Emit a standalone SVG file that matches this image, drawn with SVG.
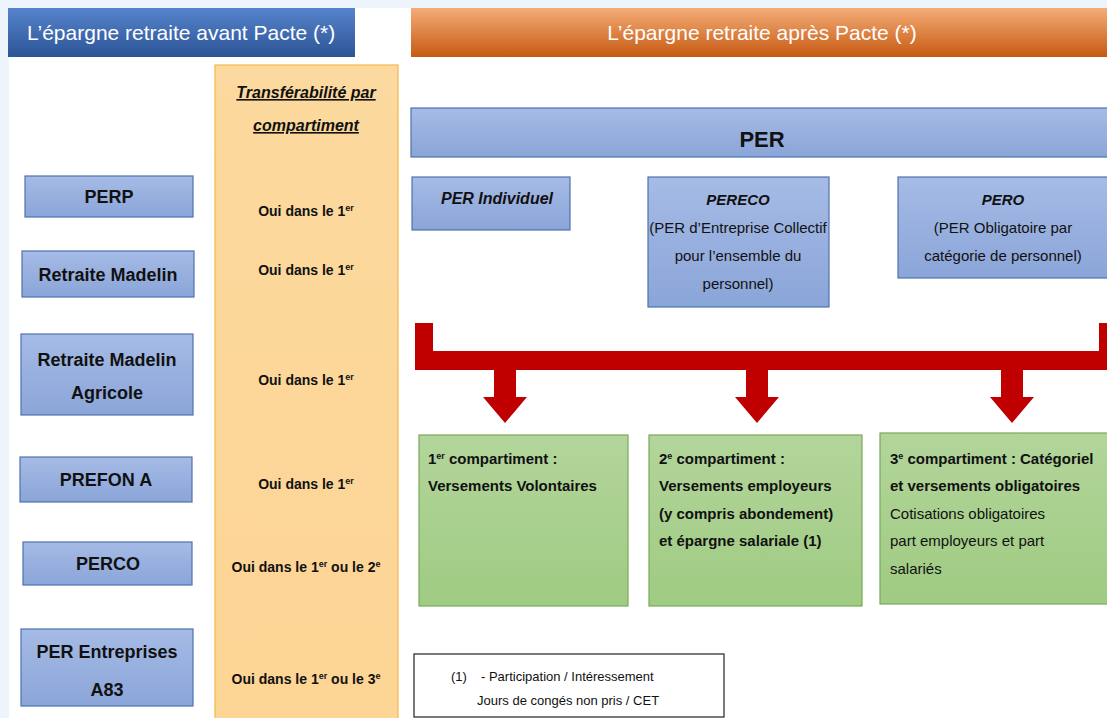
<svg xmlns="http://www.w3.org/2000/svg" width="1107" height="718" viewBox="0 0 1107 718">
<defs>
<linearGradient id="gHdrBlue" x1="0" y1="0" x2="0" y2="1"><stop offset="0" stop-color="#5683cc"/><stop offset="1" stop-color="#2c5596"/></linearGradient>
<linearGradient id="gHdrOrange" x1="0" y1="0" x2="0" y2="1"><stop offset="0" stop-color="#f4ad78"/><stop offset="1" stop-color="#c65911"/></linearGradient>
<linearGradient id="gBlue" x1="0" y1="0" x2="0" y2="1"><stop offset="0" stop-color="#a6bbe6"/><stop offset="1" stop-color="#8aa5d8"/></linearGradient>
<linearGradient id="gGreen" x1="0" y1="0" x2="0" y2="1"><stop offset="0" stop-color="#b3d59b"/><stop offset="1" stop-color="#9fcb82"/></linearGradient>
<linearGradient id="gYellow" x1="0" y1="0" x2="0" y2="1"><stop offset="0" stop-color="#fcd99e"/><stop offset="1" stop-color="#fdd595"/></linearGradient>
</defs>
<style>
text{font-family:"Liberation Sans",Arial,sans-serif;fill:#111;}
.hdr{fill:#fff;font-size:21px;}
.bl{fill:url(#gBlue);stroke:#4e72ad;stroke-width:1.2;}
.gr{fill:url(#gGreen);stroke:#7aa85a;stroke-width:1.2;}
.lbl{font-size:18px;font-weight:bold;text-anchor:middle;}
.oui{font-size:14px;font-weight:bold;text-anchor:middle;}
.sub{font-size:15px;text-anchor:middle;}
.gt{font-size:15px;font-weight:bold;}
.gn{font-size:15px;}
.red{fill:#c00000;}
</style>
<rect x="0" y="0" width="1107" height="718" fill="#eef4fb"/>
<rect x="9" y="8" width="1098" height="710" fill="#ffffff"/>

<g id="hdr-avant">
<rect x="8" y="8" width="347" height="49" fill="url(#gHdrBlue)"/>
<text class="hdr" x="27" y="40">L’épargne retraite avant Pacte (*)</text>
</g>
<g id="hdr-apres">
<rect x="411" y="8" width="696" height="49" fill="url(#gHdrOrange)"/>
<text class="hdr" x="762" y="40" text-anchor="middle">L’épargne retraite après Pacte (*)</text>
</g>

<g id="col-transfer">
<rect x="215" y="65" width="183" height="660" fill="url(#gYellow)" stroke="#f2b84b" stroke-width="1.2"/>
<text x="306" y="98" font-size="16" font-weight="bold" font-style="italic" text-anchor="middle" text-decoration="underline">Transférabilité par</text>
<text x="306" y="131" font-size="16" font-weight="bold" font-style="italic" text-anchor="middle" text-decoration="underline">compartiment</text>
<text class="oui" x="306" y="216">Oui dans le 1<tspan font-size="9" baseline-shift="super">er</tspan></text>
<text class="oui" x="306" y="275">Oui dans le 1<tspan font-size="9" baseline-shift="super">er</tspan></text>
<text class="oui" x="306" y="385">Oui dans le 1<tspan font-size="9" baseline-shift="super">er</tspan></text>
<text class="oui" x="306" y="489">Oui dans le 1<tspan font-size="9" baseline-shift="super">er</tspan></text>
<text class="oui" x="306" y="572">Oui dans le 1<tspan font-size="9" baseline-shift="super">er</tspan> ou le 2<tspan font-size="9" baseline-shift="super">e</tspan></text>
<text class="oui" x="306" y="684">Oui dans le 1<tspan font-size="9" baseline-shift="super">er</tspan> ou le 3<tspan font-size="9" baseline-shift="super">e</tspan></text>
</g>

<g id="perp"><rect class="bl" x="25" y="176" width="168" height="41"/><text class="lbl" x="109" y="203">PERP</text></g>
<g id="madelin"><rect class="bl" x="22" y="251" width="172" height="46"/><text class="lbl" x="108" y="281">Retraite Madelin</text></g>
<g id="madelin-agricole"><rect class="bl" x="21" y="334" width="172" height="81"/><text class="lbl" x="107" y="366">Retraite Madelin</text><text class="lbl" x="107" y="399">Agricole</text></g>
<g id="prefon"><rect class="bl" x="20" y="457" width="172" height="45"/><text class="lbl" x="106" y="486">PREFON A</text></g>
<g id="perco"><rect class="bl" x="23" y="542" width="169" height="43"/><text class="lbl" x="108" y="570">PERCO</text></g>
<g id="per-a83"><rect class="bl" x="21" y="629" width="172" height="77"/><text class="lbl" x="107" y="658">PER Entreprises</text><text class="lbl" x="107" y="696">A83</text></g>

<g id="per"><rect class="bl" x="411" y="108" width="700" height="49"/><text x="762" y="147" font-size="22" font-weight="bold" text-anchor="middle">PER</text></g>
<g id="per-individuel"><rect class="bl" x="412" y="177" width="158" height="53"/><text x="497" y="204" font-size="16" font-weight="bold" font-style="italic" text-anchor="middle">PER Individuel</text></g>
<g id="pereco"><rect class="bl" x="648" y="177" width="181" height="130"/>
<text x="738" y="205" font-size="15" font-weight="bold" font-style="italic" text-anchor="middle">PERECO</text>
<text class="sub" x="738" y="233">(PER d’Entreprise Collectif</text>
<text class="sub" x="738" y="261">pour l’ensemble du</text>
<text class="sub" x="738" y="289">personnel)</text></g>
<g id="pero"><rect class="bl" x="898" y="177" width="213" height="101"/>
<text x="1003" y="205" font-size="15" font-weight="bold" font-style="italic" text-anchor="middle">PERO</text>
<text class="sub" x="1003" y="233">(PER Obligatoire par</text>
<text class="sub" x="1003" y="261">catégorie de personnel)</text></g>

<g id="connectors">
<path class="red" d="M415,323 H433 V351 H1099 V323 H1107 V370 H433 V370 H415 Z"/>
<path class="red" d="M494,370 H516 V397 H527 L505,423 L483,397 H494 Z"/>
<path class="red" d="M746,370 H768 V397 H779 L757,423 L735,397 H746 Z"/>
<path class="red" d="M1001,370 H1023 V397 H1034 L1012,423 L990,397 H1001 Z"/>
</g>

<g id="comp1"><rect class="gr" x="419" y="435" width="209" height="171"/>
<text class="gt" x="428" y="464">1<tspan font-size="9" baseline-shift="super">er</tspan> compartiment :</text>
<text class="gt" x="428" y="491">Versements Volontaires</text></g>
<g id="comp2"><rect class="gr" x="649" y="435" width="213" height="171"/>
<text class="gt" x="659" y="464">2<tspan font-size="9" baseline-shift="super">e</tspan> compartiment :</text>
<text class="gt" x="659" y="491">Versements employeurs</text>
<text class="gt" x="659" y="519">(y compris abondement)</text>
<text class="gt" x="659" y="546">et épargne salariale (1)</text></g>
<g id="comp3"><rect class="gr" x="880" y="433" width="231" height="171"/>
<text class="gt" x="890" y="464">3<tspan font-size="9" baseline-shift="super">e</tspan> compartiment : Catégoriel</text>
<text class="gt" x="890" y="491">et versements obligatoires</text>
<text class="gn" x="890" y="519">Cotisations obligatoires</text>
<text class="gn" x="890" y="546">part employeurs et part</text>
<text class="gn" x="890" y="574">salariés</text></g>

<g id="footnote"><rect x="414" y="654" width="310" height="63" fill="#fff" stroke="#222" stroke-width="1.2"/>
<text x="451" y="681" font-size="13">(1)</text>
<text x="481" y="681" font-size="13">- Participation / Intéressement</text>
<text x="477" y="705" font-size="13">Jours de congés non pris / CET</text></g>
</svg>
